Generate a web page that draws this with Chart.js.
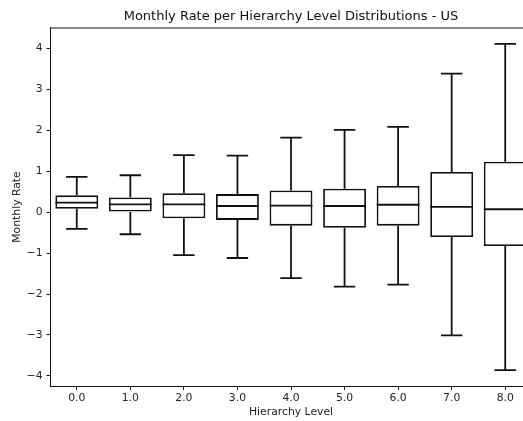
<!DOCTYPE html>
<html>
<head>
<meta charset="utf-8">
<script src="https://cdn.jsdelivr.net/npm/chart.js@4"></script>
<style>
html,body{margin:0;padding:0;background:#fff;overflow:hidden;}
#wrap{width:545px;height:421px;}
</style>
</head>
<body>
<div id="wrap"><canvas id="c" width="545" height="421"></canvas></div>
<script>
const categories = ["0.0","1.0","2.0","3.0","4.0","5.0","6.0","7.0","8.0"];
const whiskerLow  = [-0.41,-0.54,-1.05,-1.12,-1.61,-1.82,-1.77,-3.01,-3.86];
const q1          = [ 0.08, 0.00,-0.15,-0.19,-0.33,-0.38,-0.33,-0.61,-0.83];
const median      = [ 0.23, 0.19, 0.19, 0.15, 0.16, 0.15, 0.18, 0.13, 0.07];
const q3          = [ 0.41, 0.36, 0.46, 0.44, 0.53, 0.57, 0.64, 0.98, 1.23];
const whiskerHigh = [ 0.86, 0.90, 1.39, 1.38, 1.82, 2.01, 2.08, 3.38, 4.11];
const yTicks = [-4,-3,-2,-1,0,1,2,3,4];

const BOX_W = 0.8, CAP_W = 0.4;
const lo = Math.min(...whiskerLow), hi = Math.max(...whiskerHigh);
const margin = (hi - lo) * 0.05;

const lineColor = '#111111';
const boxData = categories.map((c,i)=>({x:i, y:[q1[i], q3[i]]}));
const whiskerData = [];
const medianData = [];
categories.forEach((c,i)=>{
  whiskerData.push({x:i,y:q3[i]},{x:i,y:whiskerHigh[i]},{x:i,y:null});
  whiskerData.push({x:i,y:q1[i]},{x:i,y:whiskerLow[i]},{x:i,y:null});
  whiskerData.push({x:i-CAP_W/2,y:whiskerHigh[i]},{x:i+CAP_W/2,y:whiskerHigh[i]},{x:i,y:null});
  whiskerData.push({x:i-CAP_W/2,y:whiskerLow[i]},{x:i+CAP_W/2,y:whiskerLow[i]},{x:i,y:null});
  medianData.push({x:i-BOX_W/2,y:median[i]},{x:i+BOX_W/2,y:median[i]},{x:i,y:null});
});

const font = "'DejaVu Sans', sans-serif";
Chart.defaults.font.family = font;
Chart.defaults.color = '#222';
const TICK_FS = 10.8, TITLE_FS = 13;

new Chart(document.getElementById('c'), {
  type: 'bar',
  data: {
    datasets: [
      {type:'bar', data: boxData, backgroundColor:'#ffffff', borderColor: lineColor,
       borderWidth: 1.8, borderSkipped: false, barPercentage: BOX_W, categoryPercentage: 1.0, order: 3},
      {type:'line', data: whiskerData, borderColor: lineColor, borderWidth: 1.8, pointRadius: 0,
       spanGaps: false, fill: false, order: 1, borderCapStyle:'butt'},
      {type:'line', data: medianData, borderColor: lineColor, borderWidth: 1.8, pointRadius: 0,
       spanGaps: false, fill: false, order: 0}
    ]
  },
  options: {
    responsive: false,
    animation: false,
    devicePixelRatio: 1,
    layout: {padding: {left: 0, right: 13, top: 0, bottom: 0}},
    plugins: {
      legend: {display: false},
      tooltip: {enabled: false},
      title: {display: true, text: 'Monthly Rate per Hierarchy Level Distributions - US',
        fullSize: false, color: '#111',
        font: {size: TITLE_FS, weight: 'normal', family: font, lineHeight: 1.2},
        padding: {top: 8.7, bottom: 3.2}}
    },
    scales: {
      x: {
        type: 'linear', min: -0.5, max: categories.length - 0.5, offset: false,
        afterBuildTicks: s => { s.ticks = categories.map((c,i)=>({value:i})); },
        afterFit: s => { s.height = 34.5; },
        ticks: {callback: (v) => categories[Math.round(v)] ?? '', color:'#222', font:{size:TICK_FS}, padding: 2, maxRotation:0, autoSkip:false},
        grid: {display: true, offset: false, drawOnChartArea: false, drawTicks: true, tickLength: 3.5, color: '#111', lineWidth: 1},
        border: {display: true, color: '#111', width: 1},
        title: {display: true, text: 'Hierarchy Level', color:'#222', font:{size:TICK_FS, lineHeight:1.2}, padding:{top:1, bottom:2}}
      },
      y: {
        type: 'linear', min: lo - margin, max: hi + margin,
        afterBuildTicks: s => { s.ticks = yTicks.map(v=>({value:v})); },
        afterFit: s => { s.width = 50; },
        ticks: {callback: v => v < 0 ? '\u2212' + Math.abs(v) : String(v), color:'#222', font:{size:TICK_FS}, padding: 4},
        grid: {display: true, offset: false, drawOnChartArea: false, drawTicks: true, tickLength: 3.5, color: '#111', lineWidth: 1},
        border: {display: true, color: '#111', width: 1},
        title: {display: true, text: 'Monthly Rate', color:'#222', font:{size:TICK_FS, lineHeight:1.2}, padding:{top:10.5, bottom:0}}
      }
    }
  },
  plugins: [{
    id: 'frame',
    afterDraw(chart){
      const {ctx, chartArea:a} = chart;
      ctx.save(); ctx.strokeStyle = '#111'; ctx.lineWidth = 1;
      ctx.beginPath();
      ctx.moveTo(a.left, a.top + 0.5); ctx.lineTo(a.right, a.top + 0.5);
      ctx.moveTo(a.right - 0.5, a.top); ctx.lineTo(a.right - 0.5, a.bottom);
      ctx.stroke(); ctx.restore();
    }
  }]
});
</script>
</body>
</html>
